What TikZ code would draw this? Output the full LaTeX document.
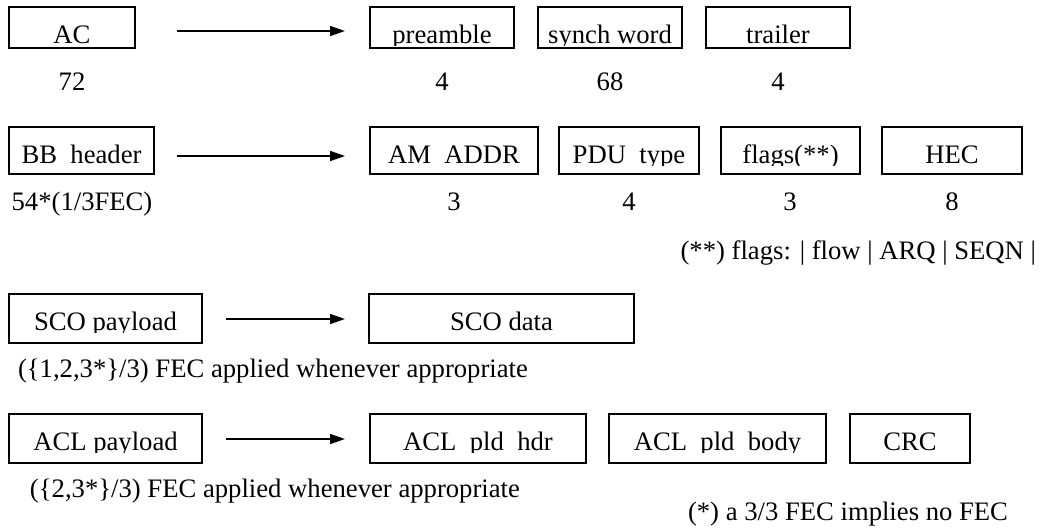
\documentclass[tikz,border=0pt]{standalone}
\usepackage{fontspec}
\setmainfont{Liberation Serif}
\usetikzlibrary{arrows.meta,calc}
\tikzset{
  boxst/.style={draw, line width=1.5pt, inner sep=0pt, outer sep=0pt},
  txt/.style={font=\fontsize{20}{24}\selectfont, inner sep=0pt, outer sep=0pt},
  arr/.style={-{Triangle[length=11.25pt,width=7.5pt]}, line width=1.2pt},
}
\newcommand\pbox[6]{%
  \node[boxst, minimum width={(#4-#2)*0.75pt}, minimum height={(#5-#3)*0.75pt}, anchor=north west] (#1) at (#2,#3) {};
  \begin{scope}
    \clip (#2,#3) rectangle (#4,{#3+38.5});
    \node[txt, anchor=base] (#1-t) at ({(#2+#4)/2},{#3+36}) {#6};
  \end{scope}}
\begin{document}
\begin{tikzpicture}[x=0.75pt,y=-0.75pt]
\useasboundingbox (0,0) rectangle (1043,529);
% row 1
\pbox{ac}{9}{7}{135}{48}{AC}
\pbox{pre}{370}{7}{514}{48}{preamble}
\pbox{syn}{538}{7}{682}{48}{synch word}
\pbox{tra}{706}{7}{850}{48}{trailer}
\draw[arr] ($(ac.east)+(42,3.5)$) -- ($(pre.west)+(-25,3.5)$);
\node[txt, anchor=base] (n72) at (72,90) {72};
\node[txt, anchor=base] (npre) at (442,90) {4};
\node[txt, anchor=base] (nsyn) at (610,90) {68};
\node[txt, anchor=base] (ntra) at (778,90) {4};
% row 2
\pbox{bb}{9}{127}{154}{174}{BB\ \ header}
\pbox{am}{370}{127}{538}{174}{AM\ \ ADDR}
\pbox{pdu}{559}{127}{699}{174}{PDU\ \ type}
\pbox{flg}{721}{127}{860}{174}{flags(**)}
\pbox{hec}{882}{127}{1022}{174}{HEC}
\draw[arr] ($(bb.east)+(23,5.5)$) -- ($(am.west)+(-25,5.5)$);
\node[txt, anchor=base] (nbb) at (82,210) {54*(1/3FEC)};
\node[txt, anchor=base] (nam) at (454,210) {3};
\node[txt, anchor=base] (npdu) at (629,210) {4};
\node[txt, anchor=base] (nflg) at (790,210) {3};
\node[txt, anchor=base] (nhec) at (952,210) {8};
\node[txt, anchor=base east] (flagnote) at (1036,259) {(**) flags: | flow | ARQ | SEQN |};
% row 3
\pbox{scop}{9}{294}{202}{343}{SCO payload}
\pbox{scod}{369}{294}{634}{343}{SCO data}
\draw[arr] ($(scop.east)+(24,0.5)$) -- ($(scod.west)+(-24,0.5)$);
\node[txt, anchor=base west] (scofec) at (18,377) {(\{1,2,3*\}/3) FEC applied whenever appropriate};
% row 4
\pbox{aclp}{9}{414}{202}{463}{ACL payload}
\pbox{hdr}{370}{414}{586}{463}{ACL\ \ pld\ \ hdr}
\pbox{body}{609}{414}{826}{463}{ACL\ \ pld\ \ body}
\pbox{crc}{850}{414}{970}{463}{CRC}
\draw[arr] ($(aclp.east)+(24,0.5)$) -- ($(hdr.west)+(-25,0.5)$);
\node[txt, anchor=base west] (aclfec) at (30,497) {(\{2,3*\}/3) FEC applied whenever appropriate};
\node[txt, anchor=base east] (fecnote) at (1008,520) {(*) a 3/3 FEC implies no FEC};
\end{tikzpicture}
\end{document}
